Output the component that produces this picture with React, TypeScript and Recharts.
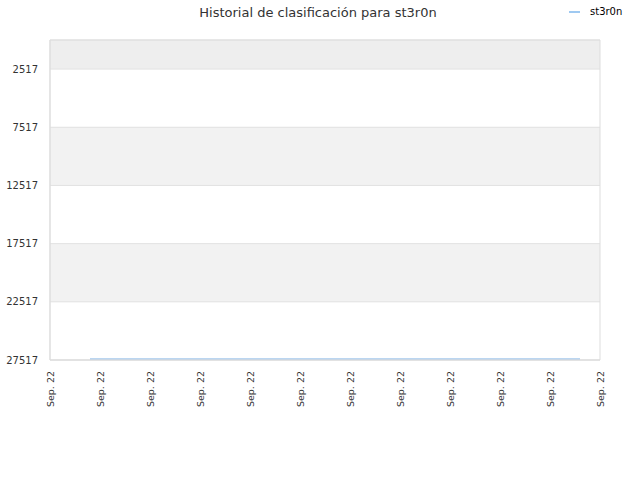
import { LineChart, Line, XAxis, YAxis, CartesianGrid, ReferenceArea } from "recharts";

const days = [4, 53];
const ranks = [27430, 27430];
const yTicks = [2517, 7517, 12517, 17517, 22517, 27517];
const xTicks = [0, 5, 10, 15, 20, 25, 30, 35, 40, 45, 50, 55];
const xLabel = "Sep. 22";
const seriesName = "st3r0n";

const data = days.map((d, i) => ({ day: d, rank: ranks[i] }));

const font = "DejaVu Sans, sans-serif";

function XTick(props: any) {
  const { x, y } = props;
  const ty = y + 3;
  return (
    <text
      x={x}
      y={ty}
      transform={`rotate(-90, ${x}, ${ty})`}
      textAnchor="end"
      dominantBaseline="central"
      fontSize={9.5}
      fill="#333"
      fontFamily={font}
    >
      {xLabel}
    </text>
  );
}

export default function App() {
  return (
    <div style={{ position: "absolute", left: 0, top: 0, width: 640, height: 480, background: "#fff", fontFamily: font }}>
      <div style={{ position: "absolute", top: 5, left: 0, width: 636, textAlign: "center", fontSize: 13, color: "#333" }}>
        Historial de clasificación para st3r0n
      </div>
      <div style={{ position: "absolute", top: 6, left: 569, display: "flex", alignItems: "center", fontSize: 10, color: "#000" }}>
        <span style={{ display: "inline-block", width: 11, height: 2, background: "#9fc9f1", marginRight: 10 }} />
        {seriesName}
      </div>
      <LineChart width={640} height={480} data={data} margin={{ top: 40, right: 40, bottom: 60, left: 0 }}>
        <CartesianGrid
          vertical={false}
          stroke="#e2e2e2"
          horizontalFill={["#eeeeee", "#ffffff", "#f2f2f2", "#ffffff", "#f2f2f2", "#ffffff"]}
          fillOpacity={1}
        />
        <ReferenceArea x1={0} x2={55} y1={17} y2={27517} fill="none" stroke="#dddddd" ifOverflow="extendDomain" />
        <XAxis
          dataKey="day"
          type="number"
          domain={[0, 55]}
          ticks={xTicks}
          interval={0}
          height={60}
          tick={<XTick />}
          tickLine={false}
          axisLine={{ stroke: "#dddddd" }}
        />
        <YAxis
          type="number"
          reversed
          domain={[17, 27517]}
          ticks={yTicks}
          interval={0}
          width={50}
          tickLine={false}
          axisLine={{ stroke: "#dddddd" }}
          tick={{ fontSize: 10, fill: "#333", fontFamily: font }}
          tickMargin={6}
        />
        <Line
          dataKey="rank"
          stroke="#a4c8ec"
          strokeWidth={1.5}
          dot={false}
          isAnimationActive={false}
        />
      </LineChart>
    </div>
  );
}
